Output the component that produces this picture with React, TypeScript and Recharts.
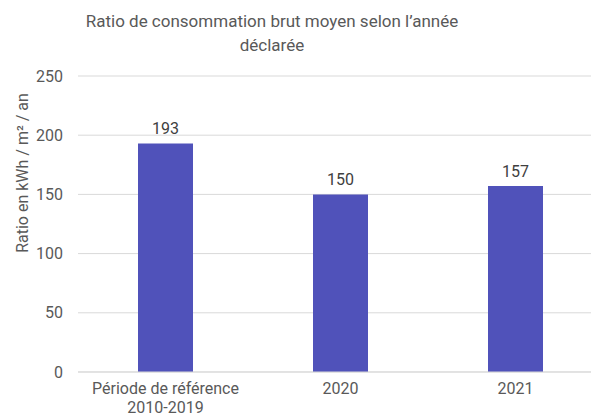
import { BarChart, Bar, XAxis, YAxis, CartesianGrid, LabelList } from "recharts";

const categories = ["Période de référence\n2010-2019", "2020", "2021"];
const ratios = [193, 150, 157];
const yTicks = [0, 50, 100, 150, 200, 250];

const data = categories.map((name, i) => ({ name, ratio: ratios[i] }));

const FONT = "Roboto, 'Noto Sans', sans-serif";
const GRAY = "#595959";

function CategoryTick(props: any) {
  const { x, y, payload } = props;
  const lines = String(payload.value).split("\n");
  return (
    <text x={x} y={y} textAnchor="middle" fill={GRAY} fontSize={16} fontFamily={FONT}>
      {lines.map((line, i) => (
        <tspan key={i} x={x} dy={i === 0 ? 14 : 19}>
          {line}
        </tspan>
      ))}
    </text>
  );
}

export default function App() {
  return (
    <div
      style={{
        position: "absolute",
        left: 0,
        top: 0,
        width: 591,
        height: 414,
        overflow: "hidden",
        background: "#fff",
        fontFamily: FONT,
      }}
    >
      <div
        style={{
          position: "absolute",
          left: 0,
          top: 9,
          width: 544,
          textAlign: "center",
          color: GRAY,
          fontSize: 17,
          lineHeight: "24px",
        }}
      >
        Ratio de consommation brut moyen selon l’année
        <br />
        déclarée
      </div>
      <BarChart
        width={610}
        height={414}
        data={data}
        margin={{ top: 76, right: 7, bottom: 0, left: 0 }}
        barCategoryGap={0}
      >
        <CartesianGrid vertical={false} stroke="#d9d9d9" />
        <XAxis
          dataKey="name"
          height={42}
          axisLine={{ stroke: "#d9d9d9" }}
          tickLine={false}
          interval={0}
          tick={<CategoryTick />}
        />
        <YAxis
          width={78}
          domain={[0, 250]}
          ticks={yTicks}
          axisLine={false}
          tickLine={false}
          tickSize={0}
          tickMargin={15}
          tick={{ fill: GRAY, fontSize: 16, fontFamily: FONT }}
          label={{
            content: () => (
              <text
                x={28}
                y={173}
                transform="rotate(-90 28 173)"
                textAnchor="middle"
                fill={GRAY}
                fontSize={16}
                fontFamily={FONT}
              >
                Ratio en kWh / m² / an
              </text>
            ),
          }}
        />
        <Bar dataKey="ratio" fill="#5052BA" barSize={55} isAnimationActive={false}>
          <LabelList
            dataKey="ratio"
            position="top"
            offset={9}
            fill="#404040"
            fontSize={16}
            fontFamily={FONT}
          />
        </Bar>
      </BarChart>
    </div>
  );
}
